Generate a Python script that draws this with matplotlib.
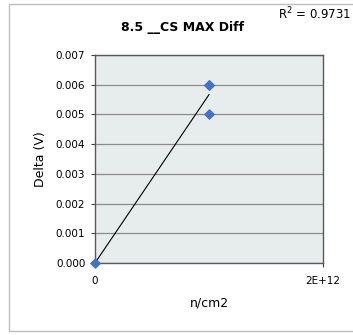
import numpy as np
import matplotlib
matplotlib.use("Agg")
import matplotlib.pyplot as plt
from matplotlib.patches import Rectangle

# datos (dos puntos coinciden en 0.006)
fluencia = [0.0, 1e12, 1e12, 1e12]
delta = [0.0, 0.006, 0.006, 0.005]
y_ticks = [0.000, 0.001, 0.002, 0.003, 0.004, 0.005, 0.006, 0.007]
x_ticks = [0, 2e12]
x_tick_labels = ["0", "2E+12"]
titulo = "8.5 __CS MAX Diff"

plt.rcParams['font.family'] = ['DejaVu Sans']

fig = plt.figure(figsize=(3.53, 3.35), dpi=100)
ax = fig.add_axes([95/353, 1 - 263/335, 228/353, 208/335])

# marco exterior del grafico
fig.patches.append(Rectangle((9/353, 4/335), 350/353, 327/335, transform=fig.transFigure,
                             fill=False, edgecolor='#BFBFBF', linewidth=1.0))

ax.set_facecolor('#E7ECEC')
for s in ax.spines.values():
    s.set_color('#595959')
    s.set_linewidth(1.0)

ax.set_xlim(0, 2e12)
ax.set_ylim(0, 0.007)
ax.set_yticks(y_ticks)
ax.set_yticklabels(["%.3f" % v for v in y_ticks])
ax.set_xticks(x_ticks)
ax.set_xticklabels(x_tick_labels)
ax.tick_params(axis='both', labelsize=7.5, colors='#404040', length=3, width=0.8, pad=4)
ax.tick_params(axis='both', labelcolor='black')
ax.tick_params(axis='x', pad=6)
ax.grid(axis='y', color='#8C8C8C', linewidth=0.9)
ax.set_axisbelow(True)

# linea de tendencia (ajuste lineal) y R^2
x = np.array(fluencia)
y = np.array(delta)
m, b = np.polyfit(x, y, 1)
r2 = 1 - np.sum((y - (m * x + b))**2) / np.sum((y - y.mean())**2)
xs = np.array([x.min(), x.max()])
ax.plot(xs, m * xs + b, color='black', linewidth=0.8, zorder=3)

ax.scatter(fluencia, delta, marker='D', s=22, color='#4472C4', zorder=4, clip_on=False)

ax.set_xlabel("n/cm2", fontsize=9, labelpad=8)
ax.set_ylabel("Delta (V)", fontsize=9, labelpad=6)
fig.text(183/353, 1 - 27/335, titulo, fontsize=9, fontweight='bold', ha='center', va='center')
fig.text(278/353, 1 - 14/335, "R$^2$ = %.4f" % r2, fontsize=8.5, ha='left', va='center')

fig.savefig("out.png", dpi=100)
